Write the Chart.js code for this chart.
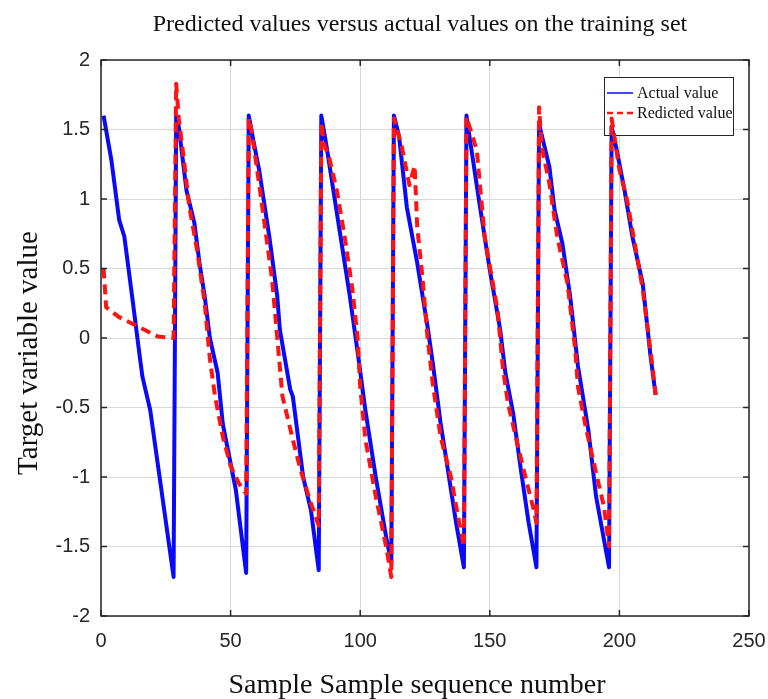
<!DOCTYPE html>
<html lang="en">
<head>
<meta charset="UTF-8">
<title>Predicted values versus actual values</title>
<style>
  body { margin: 0; background: #fff; }
  canvas { display: block; }
</style>
</head>
<body>
<canvas id="fitChart" width="768" height="699"></canvas>

<script src="https://cdn.jsdelivr.net/npm/chart.js"></script>
<script>
// sample numbers / values at the corners of each curve (one line per cycle)
const actualX = [1, 4, 7, 9, 12, 15, 16, 19, 28,
  29, 30, 33, 36, 38, 40, 42, 45, 47, 52, 56,
  57, 59, 61, 65, 68, 69, 73, 74, 78, 81, 84,
  85, 87, 92, 96, 99, 102, 106, 110, 112,
  113, 115, 118, 122, 126, 128, 131, 135, 137, 140,
  141, 142, 146, 150, 154, 156, 159, 162, 165, 168,
  169, 173, 175, 178, 181, 184, 188, 191, 196,
  197, 199, 202, 205, 209, 212, 214];
const actualY = [1.60, 1.28, 0.85, 0.73, 0.30, -0.14, -0.28, -0.52, -1.72,
  1.60, 1.52, 1.06, 0.83, 0.54, 0.30, 0.00, -0.25, -0.62, -1.09, -1.69,
  1.60, 1.40, 1.21, 0.72, 0.30, 0.06, -0.37, -0.42, -1.00, -1.24, -1.67,
  1.60, 1.38, 0.78, 0.30, -0.10, -0.52, -1.00, -1.43, -1.62,
  1.60, 1.45, 0.94, 0.54, 0.08, -0.18, -0.61, -1.09, -1.33, -1.65,
  1.60, 1.47, 0.97, 0.49, 0.06, -0.25, -0.54, -0.95, -1.33, -1.65,
  1.54, 1.23, 0.92, 0.68, 0.30, -0.20, -0.66, -1.14, -1.65,
  1.52, 1.35, 1.06, 0.73, 0.39, -0.13, -0.41];

const predictedX = [1, 2, 7, 22, 28,
  29, 30, 32, 34, 37, 40, 42, 44, 47, 50, 53, 56,
  57, 58, 61, 66, 68, 70, 74, 77, 81, 84,
  85, 86, 88, 91, 94, 97, 99, 100, 102, 106, 110, 112,
  113, 116, 119, 121, 122, 124, 126, 128, 131, 135, 138, 140,
  141, 145, 148, 153, 155, 157, 160, 164, 167, 168,
  169, 170, 173, 176, 180, 183, 184, 187, 191, 194, 196,
  197, 200, 203, 209, 212, 214];
const predictedY = [0.50, 0.22, 0.15, 0.01, 0.00,
  1.83, 1.58, 1.28, 0.95, 0.64, 0.25, -0.15, -0.42, -0.71, -0.92, -1.04, -1.12,
  1.58, 1.50, 1.11, 0.42, 0.00, -0.42, -0.73, -0.95, -1.19, -1.35,
  1.55, 1.40, 1.30, 1.06, 0.73, 0.35, 0.00, -0.35, -0.73, -1.14, -1.50, -1.72,
  1.58, 1.38, 1.10, 1.24, 0.80, 0.44, 0.00, -0.33, -0.71, -1.00, -1.31, -1.50,
  1.59, 1.35, 0.73, 0.20, -0.21, -0.47, -0.71, -1.02, -1.24, -1.33,
  1.66, 1.38, 1.11, 0.73, 0.39, -0.09, -0.35, -0.64, -0.97, -1.21, -1.50,
  1.58, 1.21, 0.99, 0.35, -0.09, -0.41];

const xTicks = [0, 50, 100, 150, 200, 250];
const xTickLabels = ['0', '50', '100', '150', '200', '250'];
const yTicks = [-2, -1.5, -1, -0.5, 0, 0.5, 1, 1.5, 2];
const yTickLabels = ['-2', '-1.5', '-1', '-0.5', '0', '0.5', '1', '1.5', '2'];

const seriesNames = ['Actual value', 'Redicted value'];
const chartTitle = 'Predicted values versus actual values on the training set';
const xTitle = 'Sample Sample sequence number';
const yTitle = 'Target variable value';

const BLUE = 'rgb(10, 10, 250)';
const RED = 'rgb(255, 20, 20)';
const INK = '#262626';
const SERIF = '"Liberation Serif", "Times New Roman", serif';
const SANS = '"Liberation Sans", Arial, sans-serif';

function toPoints(xs, ys) {
    return xs.map((x, i) => ({ x: x, y: ys[i] }));
}

// white page, axes box with inward ticks, legend and the three titles
const decorations = {
    id: 'decorations',
    beforeDraw(chart) {
        const ctx = chart.ctx;
        ctx.save();
        ctx.fillStyle = '#fff';
        ctx.fillRect(0, 0, chart.width, chart.height);
        ctx.restore();
    },
    beforeDatasetsDraw(chart) {
        // legend sits under the lines
        const ctx = chart.ctx;
        const box = { x: 604, y: 77, w: 129, h: 58 };
        ctx.save();
        ctx.fillStyle = '#fff';
        ctx.fillRect(box.x, box.y, box.w, box.h);
        ctx.strokeStyle = INK;
        ctx.lineWidth = 1;
        ctx.strokeRect(box.x + 0.5, box.y + 0.5, box.w, box.h);

        const styles = [
            { color: BLUE, width: 1.5, dash: [] },
            { color: RED, width: 2.5, dash: [6, 4] }
        ];
        ctx.font = '16px ' + SERIF;
        ctx.textBaseline = 'middle';
        ctx.fillStyle = '#111';
        seriesNames.forEach((name, i) => {
            const y = box.y + 16 + i * 20;
            ctx.beginPath();
            ctx.strokeStyle = styles[i].color;
            ctx.lineWidth = styles[i].width;
            ctx.setLineDash(styles[i].dash);
            ctx.moveTo(box.x + 3, y);
            ctx.lineTo(box.x + 29, y);
            ctx.stroke();
            ctx.fillText(name, box.x + 33, y + 1);
        });
        ctx.restore();
    },
    afterDatasetsDraw(chart) {
        const { ctx, chartArea: a, scales } = chart;
        ctx.save();
        ctx.strokeStyle = INK;
        ctx.lineWidth = 1.5;
        ctx.strokeRect(a.left, a.top, a.right - a.left, a.bottom - a.top);

        ctx.beginPath();
        xTicks.forEach(v => {
            const px = scales.x.getPixelForValue(v);
            ctx.moveTo(px, a.bottom); ctx.lineTo(px, a.bottom - 6);
            ctx.moveTo(px, a.top); ctx.lineTo(px, a.top + 6);
        });
        yTicks.forEach(v => {
            const py = scales.y.getPixelForValue(v);
            ctx.moveTo(a.left, py); ctx.lineTo(a.left + 6, py);
            ctx.moveTo(a.right, py); ctx.lineTo(a.right - 6, py);
        });
        ctx.stroke();

        ctx.fillStyle = '#111';
        ctx.textAlign = 'center';
        ctx.textBaseline = 'alphabetic';
        ctx.font = '24px ' + SERIF;
        ctx.fillText(chartTitle, (a.left + a.right) / 2 - 5, 31);

        ctx.font = '28px ' + SERIF;
        ctx.fillText(xTitle, (a.left + a.right) / 2 - 8, 693);

        ctx.translate(37, (a.top + a.bottom) / 2 + 15);
        ctx.rotate(-Math.PI / 2);
        ctx.font = '29px ' + SERIF;
        ctx.fillText(yTitle, 0, 0);
        ctx.restore();
    }
};

const chart = new Chart(document.getElementById('fitChart').getContext('2d'), {
    type: 'line',
    data: {
        datasets: [
            {
                label: seriesNames[0],
                data: toPoints(actualX, actualY),
                borderColor: BLUE,
                borderWidth: 4,
                borderJoinStyle: 'round',
                pointRadius: 0,
                tension: 0,
                order: 2
            },
            {
                label: seriesNames[1],
                data: toPoints(predictedX, predictedY),
                borderColor: RED,
                borderWidth: 4,
                borderDash: [10, 6],
                borderJoinStyle: 'round',
                pointRadius: 0,
                tension: 0,
                order: 1
            }
        ]
    },
    options: {
        responsive: false,
        animation: false,
        devicePixelRatio: 1,
        layout: { padding: { top: 60, right: 19, bottom: 0, left: 0 } },
        plugins: {
            legend: { display: false },
            title: { display: false },
            tooltip: { enabled: false }
        },
        scales: {
            x: {
                type: 'linear',
                min: 0,
                max: 250,
                afterBuildTicks: s => { s.ticks = xTicks.map(v => ({ value: v })); },
                afterFit: s => {
                    s.height = 83;
                    s.paddingLeft = 0;
                    s.paddingRight = 0;
                },
                grid: { color: '#d8d8d8', lineWidth: 1, drawTicks: false },
                border: { display: false },
                ticks: {
                    padding: 13,
                    color: INK,
                    font: { family: SANS, size: 20 },
                    maxRotation: 0,
                    callback: (v, i) => xTickLabels[i]
                }
            },
            y: {
                type: 'linear',
                min: -2,
                max: 2,
                afterBuildTicks: s => { s.ticks = yTicks.map(v => ({ value: v })); },
                afterFit: s => {
                    s.width = 101;
                    s.paddingTop = 0;
                    s.paddingBottom = 0;
                },
                grid: { color: '#d8d8d8', lineWidth: 1, drawTicks: false },
                border: { display: false },
                ticks: {
                    padding: 11,
                    color: INK,
                    font: { family: SANS, size: 20 },
                    callback: (v, i) => yTickLabels[i]
                }
            }
        }
    },
    plugins: [decorations]
});
</script>
</body>
</html>
